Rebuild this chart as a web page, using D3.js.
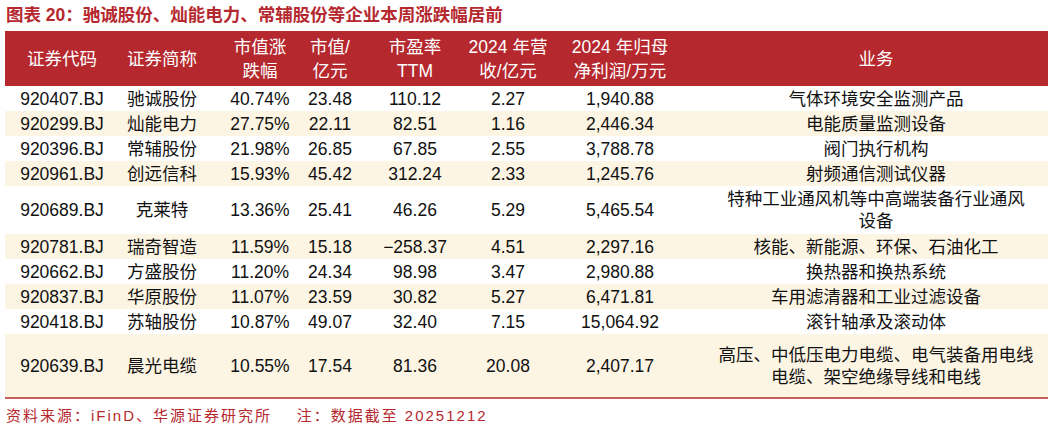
<!DOCTYPE html>
<html><head><meta charset="utf-8">
<script src="https://cdn.jsdelivr.net/npm/d3@7"></script>
<style>body{margin:0;background:#fff}text{font-family:"Liberation Sans","Noto Sans CJK SC",sans-serif}</style>
</head><body><div id="chart"></div>
<script>
var headers = [["证券代码"], ["证券简称"], ["市值涨", "跌幅"], ["市值/", "亿元"], ["市盈率", "TTM"], ["2024 年营", "收/亿元"], ["2024 年归母", "净利润/万元"], ["业务"]];
var codes = ["920407.BJ", "920299.BJ", "920396.BJ", "920961.BJ", "920689.BJ", "920781.BJ", "920662.BJ", "920837.BJ", "920418.BJ", "920639.BJ"];
var names = ["驰诚股份", "灿能电力", "常辅股份", "创远信科", "克莱特", "瑞奇智造", "方盛股份", "华原股份", "苏轴股份", "晨光电缆"];
var changes = ["40.74%", "27.75%", "21.98%", "15.93%", "13.36%", "11.59%", "11.20%", "11.07%", "10.87%", "10.55%"];
var caps = ["23.48", "22.11", "26.85", "45.42", "25.41", "15.18", "24.34", "23.59", "49.07", "17.54"];
var pes = ["110.12", "82.51", "67.85", "312.24", "46.26", "−258.37", "98.98", "30.82", "32.40", "81.36"];
var revenues = ["2.27", "1.16", "2.55", "2.33", "5.29", "4.51", "3.47", "5.27", "7.15", "20.08"];
var profits = ["1,940.88", "2,446.34", "3,788.78", "1,245.76", "5,465.54", "2,297.16", "2,980.88", "6,471.81", "15,064.92", "2,407.17"];
var business = [["气体环境安全监测产品"], ["电能质量监测设备"], ["阀门执行机构"], ["射频通信测试仪器"],
  ["特种工业通风机等中高端装备行业通风", "设备"], ["核能、新能源、环保、石油化工"], ["换热器和换热系统"],
  ["车用滤清器和工业过滤设备"], ["滚针轴承及滚动体"], ["高压、中低压电力电缆、电气装备用电线", "电缆、架空绝缘导线和电线"]];

var W = 1053, H = 438, left = 5, right = 1048;
var colX = [62, 162, 260, 330, 415, 508, 620, 876];
var svg = d3.select("#chart").append("svg").attr("width", W).attr("height", H);

svg.append("text").attr("x", 6).attr("y", 21).attr("fill", "#b5282e")
  .style("font-size", "17.5px").style("font-weight", "bold")
  .text("图表 20：驰诚股份、灿能电力、常辅股份等企业本周涨跌幅居前");

var headTop = 31, headBot = 86;
svg.append("rect").attr("x", left).attr("y", headTop).attr("width", right - left).attr("height", headBot - headTop).attr("fill", "#b5282e");
headers.forEach(function(h, i) {
  h.forEach(function(line, j) {
    var cy = (headTop + headBot) / 2 + (j - (h.length - 1) / 2) * 24;
    svg.append("text").attr("x", colX[i]).attr("y", cy).attr("dy", "0.36em")
      .attr("text-anchor", "middle").attr("fill", "#fff").style("font-size", "17.5px").text(line);
  });
});

// row heights follow number of business lines
var heights = business.map(function(b, i) { return b.length == 1 ? 25 : (i == business.length - 1 ? 64 : 48); });
var y = headBot;
codes.forEach(function(c, i) {
  var h = heights[i];
  svg.append("rect").attr("x", left).attr("y", y).attr("width", right - left).attr("height", h)
    .attr("fill", i % 2 ? "#fdf5e4" : "#fff");
  var cells = [codes[i], names[i], changes[i], caps[i], pes[i], revenues[i], profits[i]];
  cells.forEach(function(t, k) {
    svg.append("text").attr("x", colX[k]).attr("y", y + h / 2).attr("dy", "0.36em")
      .attr("text-anchor", "middle").attr("fill", "#111").style("font-size", "17.5px").text(t);
  });
  business[i].forEach(function(line, j) {
    svg.append("text").attr("x", colX[7]).attr("y", y + h / 2 + (j - (business[i].length - 1) / 2) * 22).attr("dy", "0.36em")
      .attr("text-anchor", "middle").attr("fill", "#111").style("font-size", "17.5px").text(line);
  });
  y += h;
});
svg.append("line").attr("x1", left).attr("x2", right).attr("y1", y).attr("y2", y).attr("stroke", "#b5282e").attr("stroke-width", 1.5);

svg.append("text").attr("x", 6).attr("y", y + 23).attr("fill", "#b5282e").style("font-size", "15px")
  .style("letter-spacing", "2px").attr("xml:space", "preserve").style("white-space", "pre")
  .text("资料来源：iFinD、华源证券研究所    注：数据截至 20251212");
</script></body></html>
